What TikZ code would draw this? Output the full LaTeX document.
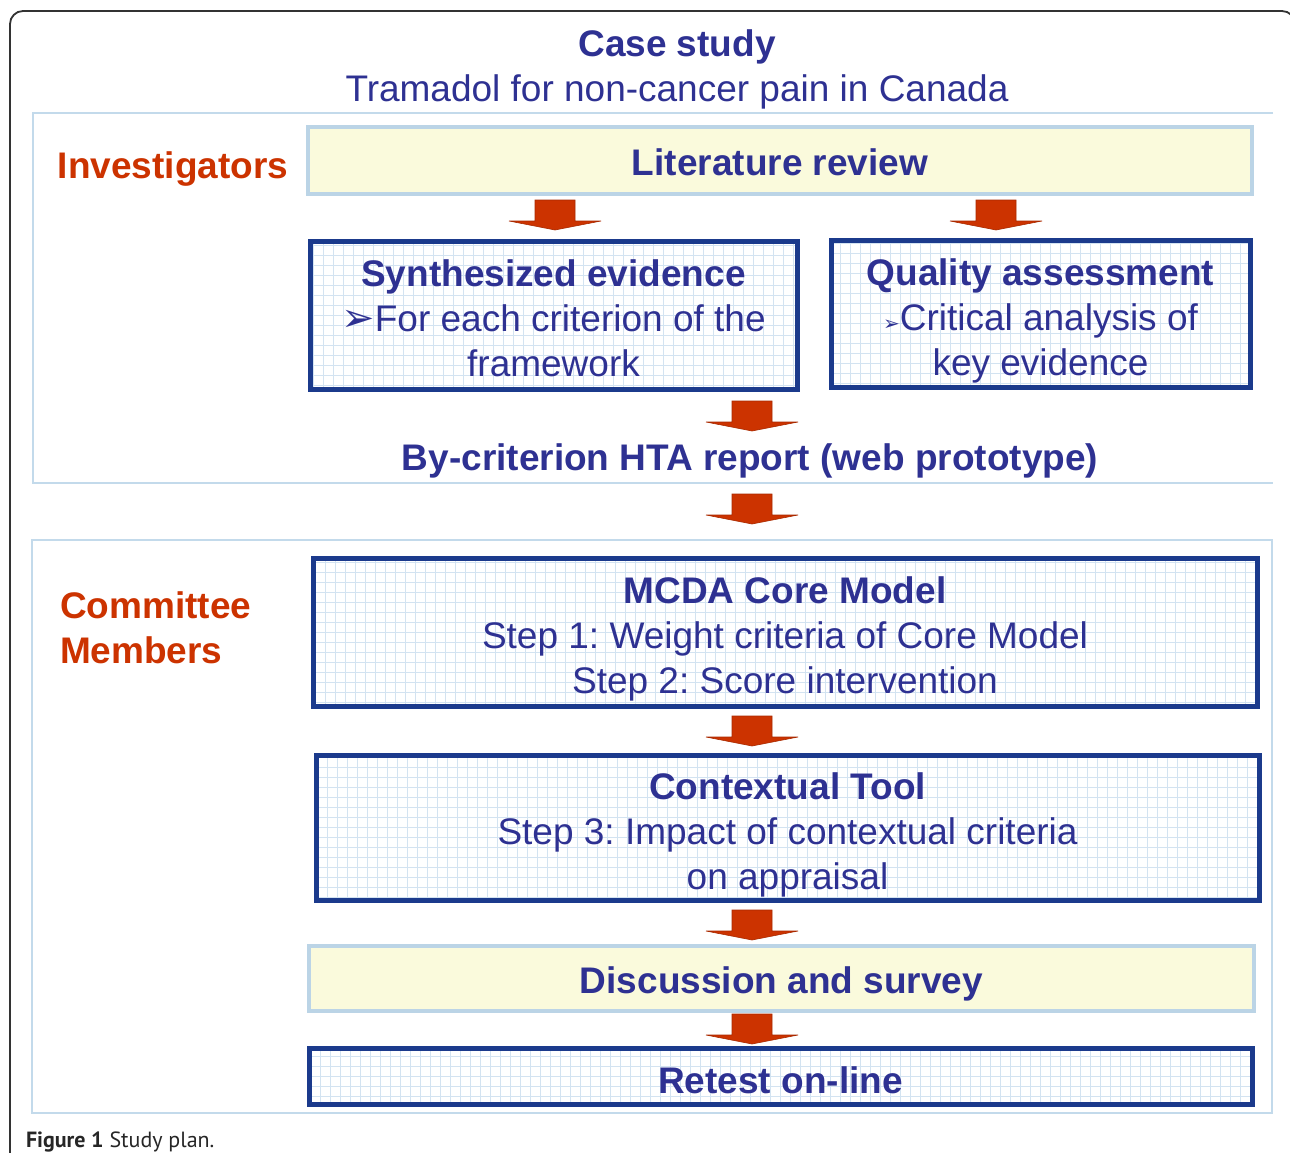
\documentclass[tikz,border=0pt]{standalone}
\usepackage{fontspec}
\setmainfont{Liberation Sans}
\newfontfamily\dejavu{DejaVu Sans}
\newfontfamily\capfont{PT Sans}
\usetikzlibrary{calc}
\frenchspacing
\definecolor{tblue}{HTML}{2E3192}
\definecolor{tred}{HTML}{CC3300}
\definecolor{navy}{HTML}{1B3A8C}
\definecolor{gridc}{HTML}{D3E3F1}
\definecolor{secc}{HTML}{C3DAEB}
\definecolor{yelfill}{HTML}{FAFADC}
\definecolor{yelline}{HTML}{BBD4E6}
\definecolor{arrowc}{HTML}{CC3300}
\definecolor{arrowd}{HTML}{A82A00}
\newcommand{\blockarrow}[3]{%
  \coordinate (#1) at (#2,#3);
  \fill[arrowc, draw=arrowd, line width=0.6]
    ($(#1)+(-20,0)$) -- ($(#1)+(20,0)$) -- ($(#1)+(20,21)$) -- ($(#1)+(46,21)$)
    -- ($(#1)+(0,30)$) -- ($(#1)+(-46,21)$) -- ($(#1)+(-20,21)$) -- cycle;}
\begin{document}
\begin{tikzpicture}[x=1pt,y=-1pt,
  every node/.style={inner sep=0pt, outer sep=0pt},
  bigtext/.style={font=\fontsize{37}{45}\selectfont, text=tblue, align=center},
  boldtext/.style={font=\bfseries\fontsize{37}{45}\selectfont, text=tblue, align=center},
  redlabel/.style={font=\bfseries\fontsize{37}{45}\selectfont, text=tred, align=left},
  yelbox/.style={draw=yelline, line width=4pt, fill=yelfill},
  gridbox/.style={draw=navy, line width=5pt, fill=white,
    path picture={\draw[gridc, line width=0.9pt]
      (path picture bounding box.south west) grid[step=10pt]
      (path picture bounding box.north east);}},
  secline/.style={draw=secc, line width=2pt}]
\useasboundingbox (0,0) rectangle (1290,1153);
\fill[white] (0,0) rectangle (1290,1153);

% outer frame
\draw[line width=1.8pt, black!80, rounded corners=13] (10,1160) -- (10,11) -- (1295,11) -- (1295,1160);

% title
\node[boldtext] (case) at (677,47) {Case study};
\node[bigtext] (tram) at (677,92) {Tramadol for non-cancer pain in Canada};

% upper section
\draw[secline] (1273,113) -- (33,113) -- (33,483) -- (1273,483);
\node[redlabel] (inv) at (173,169) {Investigators};

\node[yelbox, minimum width=944, minimum height=67] (lit) at (780,160.5) {};
\node[boldtext] (litt) at (780,162.5) {Literature review};

\blockarrow{a1}{555}{200}
\blockarrow{a2}{996}{200}

\node[gridbox, minimum width=487, minimum height=148] (syn) at (553.5,315) {};
\node[bigtext] (synt) at (553.5,318)
  {\textbf{Synthesized evidence}\\{\dejavu\fontsize{40}{45}\selectfont ➢}For each criterion of the\\framework};
\node[gridbox, minimum width=419, minimum height=147] (qual) at (1040.5,313.5) {};
\node[bigtext] (qualt) at (1040.5,320.5)
  {\textbf{Quality assessment}\\{\dejavu\fontsize{20}{45}\selectfont ➢}Critical analysis of\\key evidence};

\blockarrow{a3}{752}{401}
\node[boldtext] (hta) at (750,461) {By-criterion HTA report (web prototype)};

\blockarrow{a4}{752}{494}

% lower section
\draw[secline] (32,540) rectangle (1272,1113);
\node[redlabel, anchor=west] (com) at (60,628) {Committee\\Members};

\node[gridbox, minimum width=944, minimum height=148] (mcda) at (785,632) {};
\node[bigtext] (mcdat) at (785,639)
  {\textbf{MCDA Core Model}\\Step 1: Weight criteria of Core Model\\Step 2: Score intervention};

\blockarrow{a5}{752}{716}

\node[gridbox, minimum width=943, minimum height=145] (ctx) at (787.5,827.5) {};
\node[bigtext] (ctxt) at (787.5,834.5)
  {\textbf{Contextual Tool}\\Step 3: Impact of contextual criteria\\on appraisal};

\blockarrow{a6}{752}{910}

\node[yelbox, minimum width=945, minimum height=65] (disc) at (781.5,978.5) {};
\node[boldtext] (disct) at (781.5,983.5) {Discussion and survey};

\blockarrow{a7}{752}{1014}

\node[gridbox, minimum width=943, minimum height=56] (ret) at (780.5,1076) {};
\node[boldtext] (rett) at (780.5,1080) {Retest on-line};

% caption
\node[anchor=base west, font=\capfont\fontsize{22}{26}\selectfont, text=black!85] (cap) at (26,1147) {\textbf{Figure 1} Study plan.};
\end{tikzpicture}
\end{document}
